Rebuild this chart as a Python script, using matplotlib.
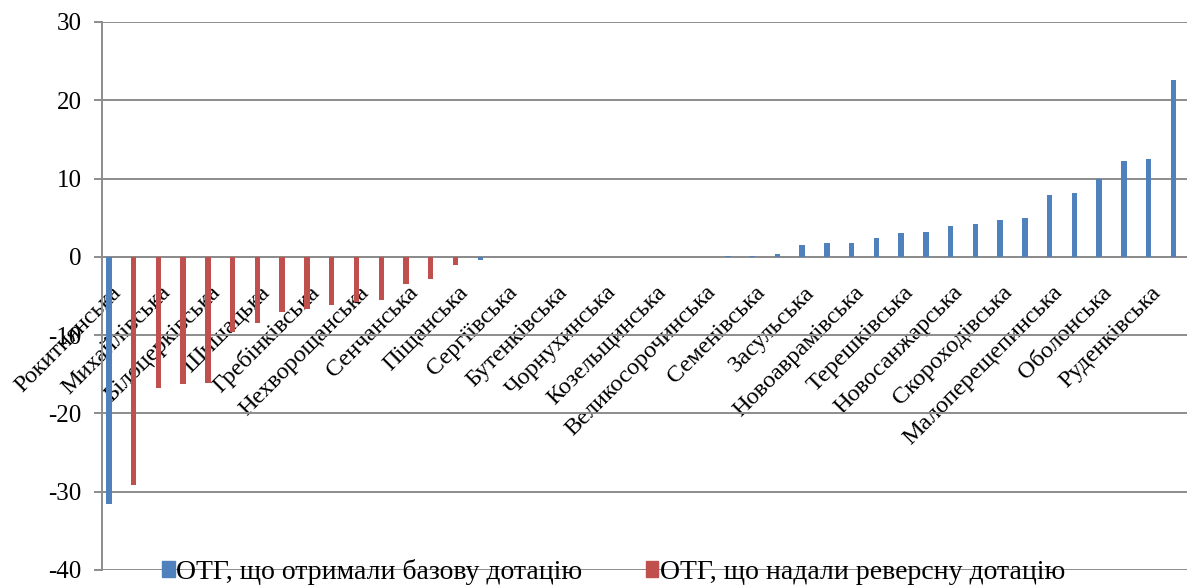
import numpy as np
import matplotlib.pyplot as plt
from matplotlib.patches import Patch
from matplotlib.transforms import ScaledTranslation

plt.rcParams['font.family'] = ['Liberation Serif', 'DejaVu Serif']
plt.rcParams['axes.unicode_minus'] = False

# підписи стоять під кожною другою громадою
tick_labels = ['Рокитнянська', 'Михайлівська', 'Білоцерківська', 'Шишацька',
               'Гребінківська', 'Нехворощанська', 'Сенчанська', 'Піщанська',
               'Сергіївська', 'Бутенківська', 'Чорнухинська', 'Козельщинська',
               'Великосорочинська', 'Семенівська', 'Засульська', 'Новоаврамівська',
               'Терешківська', 'Новосанжарська', 'Скороходівська',
               'Малоперещепинська', 'Оболонська', 'Руденківська']

# базова дотація, млн грн
base_grant = [-31.6, 0, 0, 0, 0, 0, 0, 0, 0, 0, 0, 0, 0, 0, 0,
              -0.4, 0, 0, 0, 0, 0, 0, 0, 0, 0,
              0.05, 0.1, 0.35, 1.5, 1.8, 1.8, 2.35, 3.0, 3.15, 3.9, 4.25,
              4.65, 4.9, 7.9, 8.1, 9.9, 12.2, 12.45, 22.65]
# реверсна дотація, млн грн
reverse_grant = [0, -29.1, -16.8, -16.3, -16.1, -9.6, -8.5, -7.0, -6.6, -6.2,
                 -5.8, -5.5, -3.5, -2.8, -1.0] + [0] * 29

series_names = ['ОТГ, що отримали базову дотацію', 'ОТГ, що надали реверсну дотацію']
blue = '#4F81BD'
red = '#C0504D'
grey = '#8C8C8C'

x = np.arange(len(base_grant))

fig = plt.figure(figsize=(11.87, 5.86), dpi=100)
ax = fig.add_axes([102 / 1187, 16 / 586, 1 - 102 / 1187, 548 / 586])

ax.bar(x, base_grant, width=0.22, color=blue, zorder=3)
ax.bar(x, reverse_grant, width=0.22, color=red, zorder=3)

ax.set_xlim(-0.28, 43.55)
ax.set_ylim(-40, 30)
ax.set_yticks(np.arange(-40, 31, 10))
ax.yaxis.grid(True, color=grey, linewidth=1.4, zorder=0)
ax.set_axisbelow(True)

for side in ['top', 'right']:
    ax.spines[side].set_visible(False)
ax.spines['left'].set_color(grey)
ax.spines['left'].set_linewidth(1.4)
ax.spines['bottom'].set_position(('data', 0))
ax.spines['bottom'].set_color(grey)
ax.spines['bottom'].set_linewidth(1.4)

ax.tick_params(axis='y', direction='out', length=5.5, width=1.4, color=grey,
               labelsize=18, pad=9)
ax.set_xticks(x[::2], tick_labels, rotation=45, ha='right', va='top',
              rotation_mode='anchor', fontsize=17.5)
ax.tick_params(axis='x', length=0, pad=18)
shift = ScaledTranslation(2 / 100, 0, fig.dpi_scale_trans)
for lbl in ax.get_xticklabels():
    lbl.set_transform(lbl.get_transform() + shift)

handles = [Patch(color=blue), Patch(color=red)]
fig.legend(handles, series_names, loc='center left',
           bbox_to_anchor=(162 / 1187, 1 - 572 / 586), ncol=2, frameon=False,
           fontsize=20, handlelength=0.45, handleheight=0.5, handletextpad=0.05,
           columnspacing=2.3, borderpad=0, borderaxespad=0)

fig.savefig('out.png', dpi=100)
